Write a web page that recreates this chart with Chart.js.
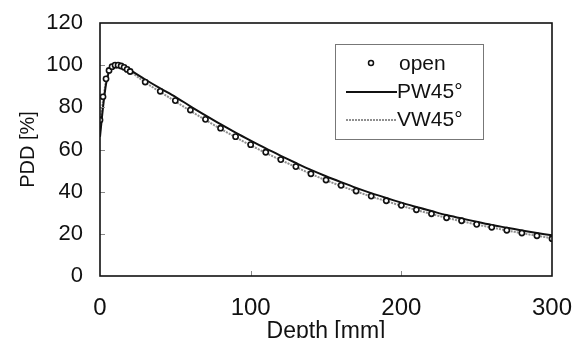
<!DOCTYPE html>
<html>
<head>
<meta charset="utf-8">
<script src="https://cdn.jsdelivr.net/npm/chart.js@4.4.1/dist/chart.umd.min.js"></script>
<style>
  html, body { margin: 0; padding: 0; background: #fff; }
  #wrap { width: 574px; height: 338px; }
</style>
</head>
<body>
<div id="wrap"><canvas id="pddChart"></canvas></div>
<script>
// depth in mm
const openDepth = [0, 2, 4, 6, 8, 10, 12, 14, 16, 18, 20, 30, 40, 50, 60, 70, 80, 90, 100, 110, 120, 130, 140, 150, 160, 170, 180, 190, 200, 210, 220, 230, 240, 250, 260, 270, 280, 290, 300];
const openPdd = [74, 85, 93.5, 97.5, 99.3, 100, 100, 99.6, 99, 98, 97, 92, 87.6, 83.2, 78.7, 74.3, 70.1, 66.1, 62.3, 58.7, 55.2, 51.9, 48.5, 45.5, 43, 40.3, 37.9, 35.7, 33.5, 31.4, 29.5, 27.6, 26.2, 24.5, 23.1, 21.7, 20.4, 19.1, 17.7];

const lineDepth = [0, 2, 4, 6, 8, 10, 12, 15, 20, 30, 40, 50, 60, 70, 80, 90, 100, 110, 120, 130, 140, 150, 160, 170, 180, 190, 200, 210, 220, 230, 240, 250, 260, 270, 280, 290, 300];
const pw45 = [66, 80, 91, 97, 99.5, 100.3, 100.2, 99.5, 97.6, 93.2, 89, 85, 80.5, 76.2, 72, 68, 64.2, 60.5, 57, 53.6, 50.3, 47.3, 44.5, 41.8, 39.3, 37, 34.8, 32.7, 30.8, 28.9, 27.3, 25.7, 24.2, 22.9, 21.6, 20.4, 19.3];
const vw45 = [72, 83, 92.5, 97, 99, 99.7, 99.7, 99, 97, 91.8, 87.3, 82.8, 78.3, 74, 69.8, 65.8, 62, 58.4, 55, 51.7, 48.4, 45.4, 42.7, 40.1, 37.7, 35.5, 33.3, 31.3, 29.4, 27.6, 26, 24.4, 23, 21.6, 20.3, 19.1, 17.9];

const xTicks = [0, 100, 200, 300];
const yTicks = [0, 20, 40, 60, 80, 100, 120];

function toPoints(xs, ys) {
  return xs.map((x, i) => ({ x: x, y: ys[i] }));
}

const sans = "'Liberation Sans', Arial, sans-serif";

// frame, inward ticks and the boxed legend
const framePlugin = {
  id: "frame",
  afterDraw(chart) {
    const ctx = chart.ctx;
    const a = chart.chartArea;
    const xs = chart.scales.x;
    const ys = chart.scales.y;
    ctx.save();
    ctx.strokeStyle = "#888";
    ctx.lineWidth = 1;
    xTicks.slice(1, -1).forEach(v => {
      const px = Math.round(xs.getPixelForValue(v)) + 0.5;
      ctx.beginPath(); ctx.moveTo(px, a.bottom); ctx.lineTo(px, a.bottom - 5); ctx.stroke();
    });
    yTicks.slice(1, -1).forEach(v => {
      const py = Math.round(ys.getPixelForValue(v)) + 0.5;
      ctx.beginPath(); ctx.moveTo(a.left, py); ctx.lineTo(a.left + 5, py); ctx.stroke();
    });
    ctx.strokeStyle = "#111";
    ctx.lineWidth = 1.6;
    ctx.strokeRect(a.left, a.top, a.right - a.left, a.bottom - a.top);

    // legend
    const ds = chart.data.datasets;
    ctx.strokeStyle = "#777";
    ctx.lineWidth = 1;
    ctx.strokeRect(335.5, 44.5, 148, 95);
    ctx.font = "21px " + sans;
    ctx.fillStyle = "#111";
    ctx.textBaseline = "middle";
    ctx.textAlign = "left";
    // open
    ctx.beginPath();
    ctx.arc(371, 63, 2.5, 0, Math.PI * 2);
    ctx.fillStyle = "#fff"; ctx.fill();
    ctx.strokeStyle = "#111"; ctx.lineWidth = 1.5; ctx.stroke();
    ctx.fillStyle = "#111";
    ctx.fillText(ds[0].label, 399, 64);
    // PW45
    ctx.beginPath();
    ctx.strokeStyle = ds[1].borderColor; ctx.lineWidth = ds[1].borderWidth;
    ctx.moveTo(346, 92); ctx.lineTo(397, 92); ctx.stroke();
    ctx.fillText(ds[1].label, 397, 92);
    // VW45
    ctx.beginPath();
    ctx.strokeStyle = ds[2].borderColor; ctx.lineWidth = ds[2].borderWidth;
    ctx.setLineDash(ds[2].borderDash);
    ctx.moveTo(346, 120); ctx.lineTo(396, 120); ctx.stroke();
    ctx.setLineDash([]);
    ctx.fillText(ds[2].label, 397, 120);
    ctx.restore();
  }
};

const config = {
  type: "scatter",
  data: {
    datasets: [
      {
        label: "open",
        data: toPoints(openDepth, openPdd),
        showLine: false,
        pointStyle: "circle",
        pointRadius: 2.6,
        pointBorderWidth: 1.6,
        pointBackgroundColor: "#fff",
        pointBorderColor: "#111",
      },
      {
        label: "PW45°",
        data: toPoints(lineDepth, pw45),
        showLine: true,
        borderColor: "#111",
        borderWidth: 2,
        pointRadius: 0,
        tension: 0.3,
      },
      {
        label: "VW45°",
        data: toPoints(lineDepth, vw45),
        showLine: true,
        borderColor: "#8f8f8f",
        borderWidth: 2,
        borderDash: [2, 1],
        pointRadius: 0,
        tension: 0.3,
      },
    ],
  },
  options: {
    responsive: true,
    maintainAspectRatio: false,
    animation: false,
    layout: { padding: { top: 23, right: 0, left: 0, bottom: 0 } },
    plugins: {
      legend: { display: false },
      tooltip: { enabled: false },
    },
    scales: {
      x: {
        type: "linear",
        min: 0,
        max: 300,
        afterBuildTicks: s => { s.ticks = xTicks.map(v => ({ value: v })); },
        afterFit: s => { s.height = 62; s.paddingLeft = 0; s.paddingRight = 22; },
        grid: { display: false, drawTicks: false },
        border: { display: false },
        ticks: { padding: 18, color: "#111", font: { family: sans, size: 24 } },
        title: {
          display: true,
          text: "Depth [mm]",
          color: "#111",
          font: { family: sans, size: 23, lineHeight: 1 },
          padding: { top: 0, bottom: -5 },
        },
      },
      y: {
        min: 0,
        max: 120,
        afterBuildTicks: s => { s.ticks = yTicks.map(v => ({ value: v })); },
        afterFit: s => { s.width = 100; s.paddingTop = 0; s.paddingBottom = 0; },
        grid: { display: false, drawTicks: false },
        border: { display: false },
        ticks: { padding: 17, color: "#111", font: { family: sans, size: 22 } },
        title: {
          display: true,
          text: "PDD [%]",
          color: "#111",
          font: { family: sans, size: 20, lineHeight: 1.2 },
          padding: { top: 16, bottom: 0 },
        },
      },
    },
  },
  plugins: [framePlugin],
};

new Chart(document.getElementById("pddChart"), config);
</script>
</body>
</html>
